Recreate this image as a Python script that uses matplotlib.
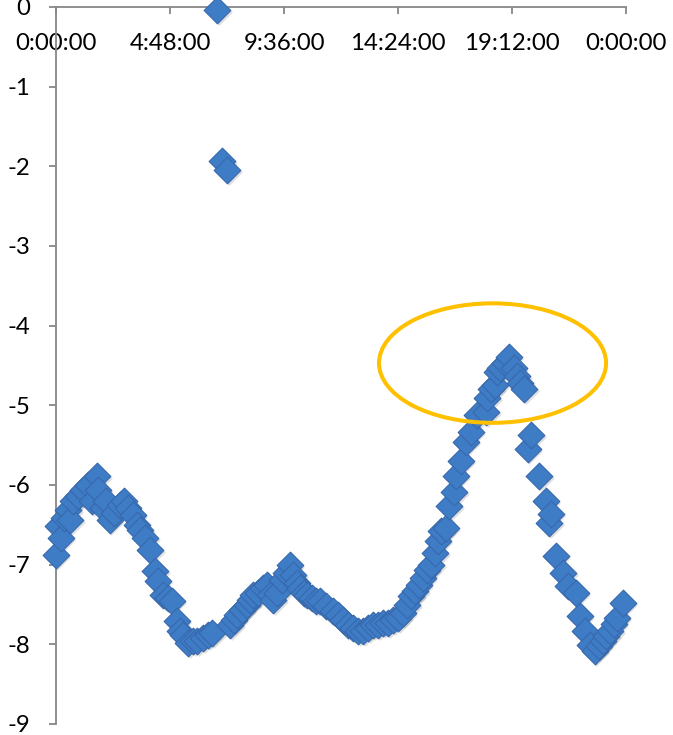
import matplotlib
matplotlib.use('Agg')
import matplotlib.pyplot as plt
from matplotlib.patches import Ellipse
from matplotlib.transforms import offset_copy

plt.rcParams['font.family'] = ['Lato', 'DejaVu Sans']

# time of day in hours, measured level
hours = [0.00, 0.08, 0.21, 0.34, 0.51, 0.59, 0.72, 0.93, 1.14, 1.35,
         1.52, 1.73, 1.77, 1.98, 2.11, 2.27, 2.44, 2.69, 2.86, 3.03,
         3.24, 3.41, 3.54, 3.75, 3.96, 4.17, 4.29, 4.51, 4.72, 4.88,
         5.09, 5.22, 5.35, 5.56, 5.77, 5.94, 6.19, 6.40, 6.57,
         6.78, 6.99, 7.20,
         7.33, 7.49, 7.62, 7.83, 8.04, 8.17, 8.29, 8.51, 8.72, 8.88,
         9.01, 9.14, 9.31, 9.52, 9.68, 9.85, 9.98, 10.15, 10.27, 10.44,
         10.57, 10.78, 10.95, 11.12, 11.37, 11.66, 11.87, 12.08, 12.29, 12.51,
         12.72, 12.93, 13.14, 13.35, 13.56, 13.77, 13.98, 14.19, 14.40, 14.61,
         14.78, 14.95, 15.12, 15.28, 15.45, 15.62, 15.79, 15.96, 16.08, 16.21,
         16.42, 16.55, 16.76, 16.84, 17.05, 17.26, 17.47, 17.73, 18.11, 18.15,
         18.32, 18.48, 18.57, 18.69, 18.91, 19.07, 19.28, 19.41, 19.54, 19.71,
         19.87, 20.00, 20.34, 20.63, 20.76, 20.84, 21.05, 21.35, 21.56, 21.89,
         22.06, 22.27, 22.48, 22.69, 22.86, 23.03, 23.16, 23.33, 23.49, 23.62,
         23.87]
level = [-6.88, -6.51, -6.66, -6.41, -6.31, -6.44, -6.20, -6.14, -6.06, -6.00,
         -6.20, -5.89, -6.06, -6.29, -6.20, -6.44, -6.35, -6.25, -6.20, -6.29,
         -6.38, -6.50, -6.56, -6.66, -6.82, -7.08, -7.20, -7.38, -7.42, -7.46,
         -7.71, -7.83, -7.88, -7.98, -7.96, -7.96, -7.92, -7.88, -7.86,
         -0.04, -1.93, -2.05,
         -7.76, -7.69, -7.63, -7.57, -7.51, -7.44, -7.38, -7.36, -7.29, -7.25,
         -7.38, -7.44, -7.36, -7.19, -7.10, -7.00, -7.13, -7.23, -7.29, -7.36,
         -7.38, -7.42, -7.46, -7.46, -7.52, -7.58, -7.63, -7.69, -7.76, -7.79,
         -7.83, -7.83, -7.79, -7.76, -7.76, -7.73, -7.73, -7.69, -7.67, -7.61,
         -7.51, -7.39, -7.33, -7.25, -7.17, -7.07, -7.00, -6.85, -6.70, -6.58,
         -6.54, -6.26, -6.09, -5.89, -5.70, -5.46, -5.33, -5.12, -5.08, -4.91,
         -4.79, -4.74, -4.58, -4.53, -4.47, -4.39, -4.53, -4.63, -4.72, -4.79,
         -5.55, -5.37, -5.89, -6.20, -6.48, -6.36, -6.89, -7.10, -7.27, -7.36,
         -7.64, -7.83, -8.01, -8.08, -8.02, -7.96, -7.90, -7.83, -7.74, -7.67,
         -7.48]

xticks = [0, 4.8, 9.6, 14.4, 19.2, 24]
xlabels = ['0:00:00', '4:48:00', '9:36:00', '14:24:00', '19:12:00', '0:00:00']
yticks = list(range(-9, 1))
ylabels = [str(v) for v in yticks]

# highlighted region around the evening peak
ring_center = (18.38, -4.47)
ring_w, ring_h = 9.56, 1.50

axis_grey = '#878787'

fig = plt.figure(figsize=(6.73, 7.35), dpi=100)
ax = fig.add_axes([0.0832, 0.0150, 0.847, 0.9755])

# soft drop shadow, then the markers
shadow = offset_copy(ax.transData, fig=fig, x=1.5, y=-2.0, units='dots')
ax.scatter(hours, level, marker='D', s=185, color='#808080', alpha=0.25,
           linewidths=0, transform=shadow, zorder=2.9, clip_on=False)
ax.scatter(hours, level, marker='D', s=185, color='#3F7CC6',
           edgecolors='#3768AB', linewidths=0.8, zorder=3, clip_on=False)

ax.add_patch(Ellipse(ring_center, ring_w, ring_h, fill=False,
                     edgecolor='#FFC000', linewidth=2.9, zorder=4))

ax.set_xlim(0, 24)
ax.set_ylim(-9, 0)

for side in ['right', 'bottom']:
    ax.spines[side].set_visible(False)
for side in ['left', 'top']:
    ax.spines[side].set_color(axis_grey)
    ax.spines[side].set_linewidth(1.3)

ax.xaxis.tick_top()
ax.set_xticks(xticks)
ax.set_xticklabels(xlabels)
ax.tick_params(axis='x', direction='in', length=5, width=1.3, color=axis_grey,
               pad=-34, labelsize=17.3, labelcolor='black')
ax.set_yticks(yticks)
ax.set_yticklabels(ylabels)
ax.tick_params(axis='y', direction='out', length=5, width=1.3, color=axis_grey,
               pad=13.5, labelsize=17.3, labelcolor='black')

fig.savefig('out.png', dpi=100)
